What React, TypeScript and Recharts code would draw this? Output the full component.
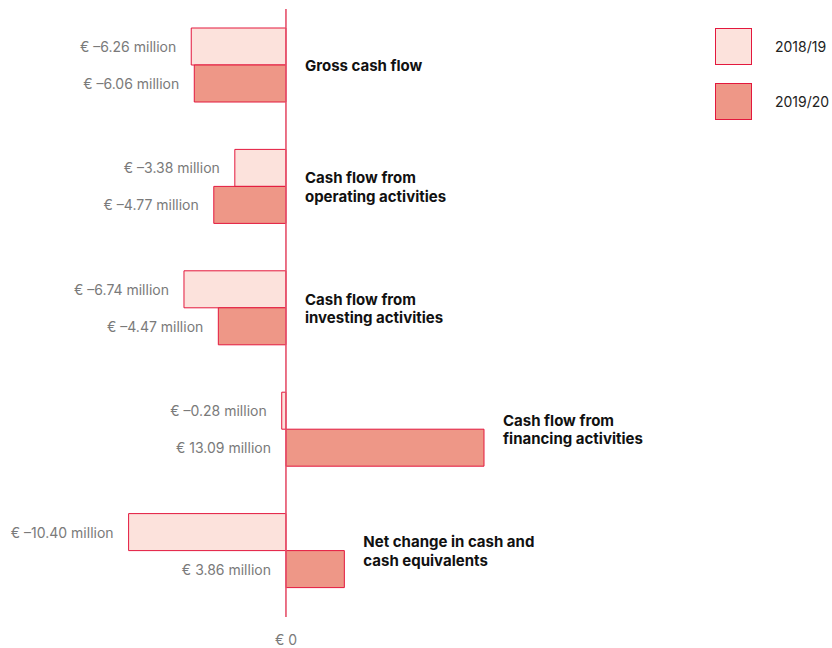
import React from "react";
import { BarChart, Bar, XAxis, YAxis, LabelList, ReferenceLine, Legend } from "recharts";

const categories = ["Gross cash flow", "Cash flow from operating activities", "Cash flow from investing activities", "Cash flow from financing activities", "Net change in cash and cash equivalents"];
const categoryLines = [
  ["Gross cash flow"],
  ["Cash flow from", "operating activities"],
  ["Cash flow from", "investing activities"],
  ["Cash flow from", "financing activities"],
  ["Net change in cash and", "cash equivalents"],
];
const values2018 = [-6.26, -3.38, -6.74, -0.28, -10.4];
const values2019 = [-6.06, -4.77, -4.47, 13.09, 3.86];
const seriesNames = ["2018/19", "2019/20"];
const xTicks = [0];

const data = categories.map((c, i) => ({ name: c, a: values2018[i], b: values2019[i] }));

const FONT = "Inter, 'Noto Sans', sans-serif";
const LIGHT = "#fce2dc";
const DARK = "#ee9787";
const STROKE = "#e3183d";

const fmt = (v: number) => `€ ${v < 0 ? "–" : ""}${Math.abs(v).toFixed(2)} million`;

const geom = (props: any) => {
  const vb = props.viewBox || {};
  const x = props.x ?? vb.x;
  const y = props.y ?? vb.y;
  const width = props.width ?? vb.width;
  const height = props.height ?? vb.height;
  return { x: Number(x), y: Number(y), width: Number(width), height: Number(height) };
};

const ValueLabel = (props: any) => {
  const { x, y, width, height } = geom(props);
  const v = Number(props.value);
  const left = Math.min(x, x + width);
  return (
    <text x={left - 15} y={y + height / 2} textAnchor="end" dominantBaseline="central" fill="#7a7a7a" fontSize={14} fontFamily={FONT}>
      {fmt(v)}
    </text>
  );
};

const CategoryLabel = (props: any) => {
  const { x, y, width } = geom(props);
  const idx = props.index;
  const v2 = values2019[idx];
  const v1 = values2018[idx];
  const ppu = width / v2;
  const zero = x;
  const maxV = Math.max(0, v1, v2);
  const xr = zero + maxV * ppu;
  const lines = categoryLines[idx];
  const lh = 18.5;
  const startY = y - ((lines.length - 1) * lh) / 2;
  return (
    <text x={xr + 19} y={startY} fill="#111" fontSize={15} fontWeight={700} fontFamily={FONT} dominantBaseline="central">
      {lines.map((l, i) => (
        <tspan key={i} x={xr + 19} y={startY + i * lh}>{l}</tspan>
      ))}
    </text>
  );
};

const LegendContent = () => (
  <div style={{ fontFamily: FONT }}>
    {[LIGHT, DARK].map((c, i) => (
      <div key={i} style={{ display: "flex", alignItems: "center", height: 37, marginBottom: i === 0 ? 18 : 0 }}>
        <div style={{ width: 35, height: 35, background: c, border: `1px solid ${STROKE}` }} />
        <span style={{ marginLeft: 23, fontSize: 14, color: "#222" }}>{seriesNames[i]}</span>
      </div>
    ))}
  </div>
);

const AxisLine = (props: any) => (
  <line x1={props.x1} x2={props.x2} y1={props.y1 + 6} y2={props.y2 + 5} stroke="#e5506a" strokeWidth={1.6} />
);

export default function App() {
  return (
    <div style={{ position: "absolute", left: 0, top: 0 }}>
      <BarChart width={832} height={648} data={data} layout="vertical" margin={{ top: 4, right: 0, bottom: 0, left: 0 }} barSize={37} barGap={0}>
        <XAxis type="number" domain={[-18.9, 36.09]} ticks={xTicks} tickFormatter={() => "€ 0"} axisLine={false} tickLine={false} height={37} tickMargin={18} tick={{ fill: "#7a7a7a", fontSize: 14, fontFamily: FONT }} allowDataOverflow />
        <YAxis type="category" dataKey="name" hide />
        <Legend layout="vertical" align="center" verticalAlign="middle" content={<LegendContent />} wrapperStyle={{ position: "absolute", left: 715, top: 28, width: 117, height: "auto" }} />
        <Bar dataKey="a" name={seriesNames[0]} fill={LIGHT} stroke={STROKE} strokeWidth={1} isAnimationActive={false}>
          <LabelList dataKey="a" content={<ValueLabel />} />
        </Bar>
        <Bar dataKey="b" name={seriesNames[1]} fill={DARK} stroke={STROKE} strokeWidth={1} isAnimationActive={false}>
          <LabelList dataKey="b" content={<ValueLabel />} />
          <LabelList dataKey="b" content={<CategoryLabel />} />
        </Bar>
        <ReferenceLine x={0} shape={<AxisLine />} />
      </BarChart>
    </div>
  );
}
